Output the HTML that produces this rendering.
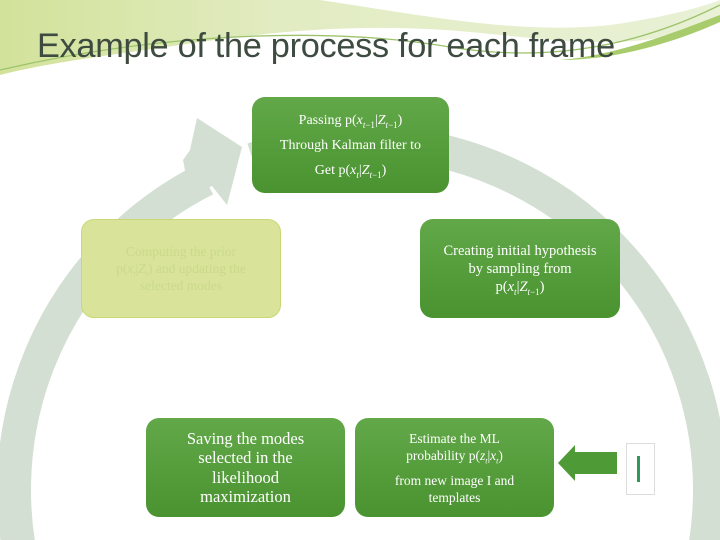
<!DOCTYPE html>
<html><head><meta charset="utf-8"><style>
html,body{margin:0;padding:0;background:#fff;overflow:hidden;width:720px;height:540px;}
#w{position:relative;width:720px;height:540px;overflow:hidden;background:#fff;font-family:"Liberation Serif",serif;}
.b{position:absolute;border-radius:13px;color:#fff;text-align:center;box-sizing:border-box;display:flex;flex-direction:column;justify-content:center;overflow:hidden;}
.g{background:linear-gradient(#62a849,#4a9330);}
i{font-style:italic;}
sub{line-height:0;}
</style></head><body><div id="w">
<svg width="720" height="540" style="position:absolute;left:0;top:0">
<defs>
<linearGradient id="hg" x1="0" y1="0" x2="1" y2="0">
<stop offset="0" stop-color="#d2e29a"/><stop offset="0.4" stop-color="#e2ecc2"/><stop offset="1" stop-color="#e9f1d6"/></linearGradient>
</defs>
<path d="M0 0 H720 V20 C640 55 560 40 470 32 C380 24 300 28 200 42 C120 54 50 62 0 75 Z" fill="url(#hg)"/>
<path d="M320 0 C420 15 520 35 610 25 C660 18 700 8 720 0 Z" fill="#fff"/>
<path d="M0 70 C150 35 320 25 450 47 C560 65 650 40 720 5" stroke="#9cc36a" stroke-width="1.3" fill="none"/>
<path d="M560 60 C620 55 680 30 720 15 L720 22 C680 40 620 60 560 60Z" fill="#a8cc6c"/>
<circle cx="362" cy="490" r="348" stroke="#d3dfd2" stroke-width="34" fill="none" stroke-dasharray="2135 100" transform="rotate(251.7 362 490)"/>
<polygon points="197,118 242,147 227,205 212,186 190,196 183,160 190,150" fill="#d3dfd2"/>
<polygon points="558,463 575,445 575,452 617,452 617,474 575,474 575,481" fill="#4e9a36"/>
<rect x="626.5" y="443.5" width="28" height="51" fill="#fff" stroke="#ddd"/>
<rect x="637" y="456" width="3" height="26" fill="#2e9a5a"/>
</svg>
<div style="position:absolute;left:37px;top:28px;font-family:'Liberation Sans',sans-serif;font-size:34.3px;color:#3e4b40;letter-spacing:-0.3px;white-space:nowrap;line-height:36px;">Example of the process for each frame</div>
<div class="b g" style="left:252px;top:97px;width:197px;height:96px;font-size:14px;line-height:25px;">
<div>Passing p(<i>x</i><sub style="font-size:9px"><i>t</i>−1</sub>|<i>Z</i><sub style="font-size:9px"><i>t</i>−1</sub>)</div><div>Through Kalman filter to</div><div>Get p(<i>x<sub style="font-size:9px">t</sub></i>|<i>Z</i><sub style="font-size:9px"><i>t</i>−1</sub>)</div></div>
<div class="b" style="left:81px;top:219px;width:200px;height:99px;background:#d9e49a;border:1px solid #c9d874;color:#cad98a;font-size:13.5px;line-height:17px;">
<div>Computing the prior</div><div>p(<i>x<sub style="font-size:8px">t</sub></i>|<i>Z<sub style="font-size:8px">t</sub></i>) and updating the</div><div>selected modes</div></div>
<div class="b g" style="left:420px;top:219px;width:200px;height:99px;font-size:14.5px;line-height:18px;">
<div>Creating initial hypothesis</div><div>by sampling from</div><div>p(<i>x<sub style="font-size:9px">t</sub></i>|<i>Z</i><sub style="font-size:9px"><i>t</i>−1</sub>)</div></div>
<div class="b g" style="left:146px;top:418px;width:199px;height:99px;font-size:16.5px;line-height:19.5px;">
<div>Saving the modes</div><div>selected in the</div><div>likelihood</div><div>maximization</div></div>
<div class="b g" style="left:355px;top:418px;width:199px;height:99px;font-size:13.5px;line-height:17px;">
<div>Estimate the ML</div><div>probability p(<i>z<sub style="font-size:8px">t</sub></i>|<i>x<sub style="font-size:8px">t</sub></i>)</div><div style="margin-top:8px">from new image I and</div><div>templates</div></div>
</div></body></html>
